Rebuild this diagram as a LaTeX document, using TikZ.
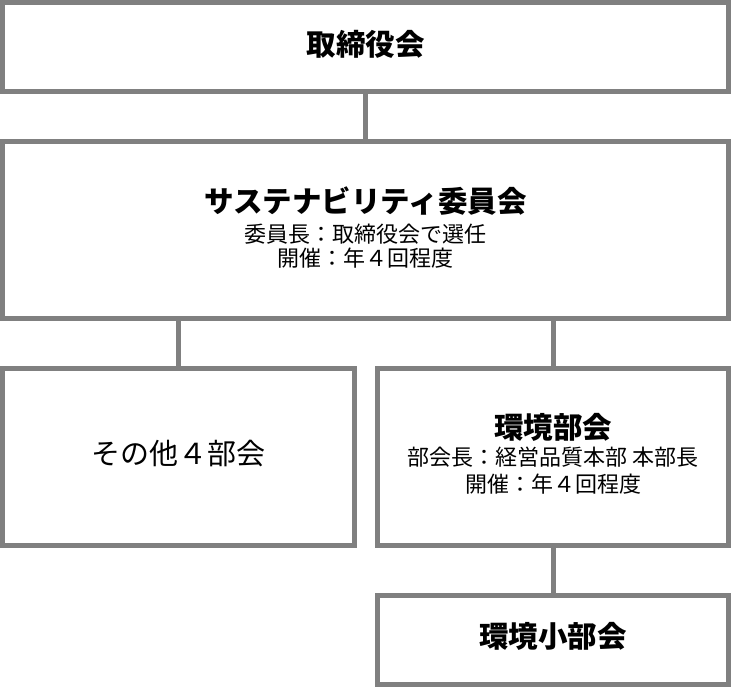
\documentclass[tikz,border=0pt]{standalone}
\usepackage{fontspec}
\setmainfont{Noto Sans CJK JP}
\definecolor{boxgray}{HTML}{808080}
\tikzset{
  box/.style={draw=boxgray, line width=5pt, fill=white, rectangle, inner sep=0pt},
  link/.style={draw=boxgray, line width=5pt},
  ttl/.style={inner sep=0pt, font=\fontsize{29.5}{33}\selectfont\bfseries},
  big/.style={inner sep=0pt, font=\fontsize{29}{33}\selectfont},
  sub/.style={inner sep=0pt, font=\fontsize{22}{25}\selectfont}
}
\begin{document}
\begin{tikzpicture}[x=1pt,y=-1pt]
\useasboundingbox (0,0) rectangle (731,687);
\node[box, minimum width=726pt, minimum height=89pt] (b1) at (365.5,47) {};
\node[box, minimum width=726pt, minimum height=177pt] (b2) at (365.5,230) {};
\node[box, minimum width=352pt, minimum height=176.5pt] (b3) at (178.5,456.75) {};
\node[box, minimum width=351pt, minimum height=176.5pt] (b4) at (553,456.75) {};
\node[box, minimum width=351pt, minimum height=89.5pt] (b5) at (553,639.75) {};
\draw[link] (b1.south) -- (b2.north);
\draw[link] (b3.north) -- (b3.north |- b2.south);
\draw[link] (b4.north) -- (b4.north |- b2.south);
\draw[link] (b4.south) -- (b5.north);
\node[ttl] (t1) at (365.5,44) {取締役会};
\node[ttl] (t2) at (365.5,201) {サステナビリティ委員会};
\node[sub] (t2a) at (365.5,234) {委員長：取締役会で選任};
\node[sub] (t2b) at (365.5,258) {開催：年４回程度};
\node[big] (t3) at (178.5,454) {その他４部会};
\node[ttl] (t4) at (553,427) {環境部会};
\node[sub] (t4a) at (553,457.5) {部会長：経営品質本部 本部長};
\node[sub] (t4b) at (553,484.5) {開催：年４回程度};
\node[ttl] (t5) at (553,636.5) {環境小部会};
\end{tikzpicture}
\end{document}
